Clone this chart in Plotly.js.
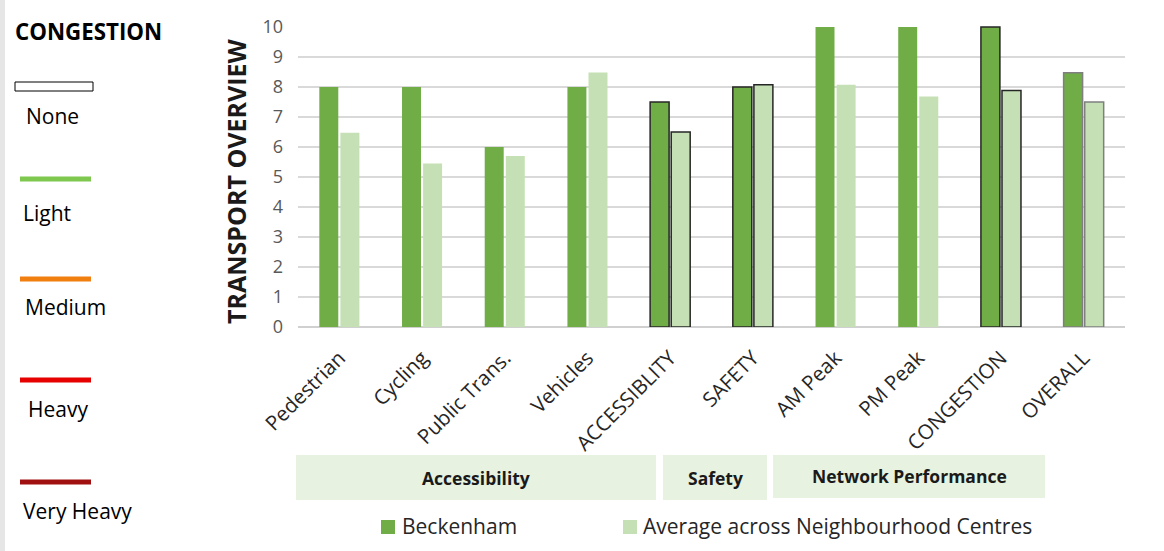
<!DOCTYPE html>
<html>
<head>
<meta charset="utf-8">
<script src="https://cdn.plot.ly/plotly-3.0.1.min.js"></script>
<style>html,body{margin:0;padding:0;background:#fff;}#chart{width:1164px;height:551px;}</style>
</head>
<body>
<div id="chart"></div>
<script>
const categories = ["Pedestrian","Cycling","Public Trans.","Vehicles","ACCESSIBLITY","SAFETY","AM Peak","PM Peak","CONGESTION","OVERALL"];
const beckenham = [8, 8, 6, 8, 7.5, 8, 10, 10, 10, 8.47];
const average = [6.47, 5.45, 5.7, 8.48, 6.5, 8.07, 8.07, 7.68, 7.88, 7.5];
const seriesNames = ["Beckenham", "Average across Neighbourhood Centres"];
const seriesColors = ["#70ad47", "#c5e0b4"];
const outlined = [false, false, false, false, true, true, false, false, true, true];
const outlineColors = ["#000","#000","#000","#000","#262626","#262626","#000","#000","#262626","#7f7f7f"];
const groups = ["Accessibility", "Safety", "Network Performance"];
const congestionLevels = ["None", "Light", "Medium", "Heavy", "Very Heavy"];
const congestionColors = [null, "#7ec850", "#f07f10", "#e60000", "#a01010"];
const yTicks = [0,1,2,3,4,5,6,7,8,9,10];

// pixel -> paper helpers (plot area: x 298..1125, y 26..327)
const L = 298, R = 1125, T = 26, B = 327;
const X = px => (px - L) / (R - L);
const Y = py => (B - py) / (B - T);

const font = "'Open Sans', 'Noto Sans', sans-serif";
const lineW = outlined.map(o => o ? 1.5 : 0);
const lineC = outlined.map((o,i) => outlineColors[i]);

const traces = [
  {type:'bar', name:seriesNames[0], x:categories, y:beckenham,
   marker:{color:seriesColors[0], line:{color:lineC, width:lineW}}, hoverinfo:'x+y'},
  {type:'bar', name:seriesNames[1], x:categories, y:average,
   marker:{color:seriesColors[1], line:{color:lineC, width:lineW}}, hoverinfo:'x+y'}
];

const shapes = [];
const annotations = [];

// left gray strip
shapes.push({type:'rect', xref:'paper', yref:'paper', x0:X(0), x1:X(5), y0:Y(0), y1:Y(551), fillcolor:'#e6e6e6', line:{width:0}, layer:'below'});

// Congestion legend panel
annotations.push({xref:'paper', yref:'paper', x:X(13), y:Y(31), xanchor:'left', yanchor:'middle', showarrow:false,
  text:'<b>CONGESTION</b>', font:{family:font, size:22.3, color:'#000'}});
const lineYs = [86, 179, 279, 380, 482];
const labelYs = [116, 213, 307, 409, 511];
const labelXs = [24, 21, 23, 26, 21];
congestionLevels.forEach((lvl, i) => {
  if (congestionColors[i] === null) {
    shapes.push({type:'rect', xref:'paper', yref:'paper', x0:X(15), x1:X(93), y0:Y(82), y1:Y(91), fillcolor:'#fff', line:{color:'#000', width:1}});
  } else {
    shapes.push({type:'line', xref:'paper', yref:'paper', x0:X(20), x1:X(91), y0:Y(lineYs[i]), y1:Y(lineYs[i]), line:{color:congestionColors[i], width:5}});
  }
  annotations.push({xref:'paper', yref:'paper', x:X(labelXs[i]), y:Y(labelYs[i]), xanchor:'left', yanchor:'middle', showarrow:false,
    text:lvl, font:{family:font, size:21, color:'#000'}});
});

// group boxes
const boxes = [[296,656,455,500],[663,767,455,500],[773,1045,455,498]];
groups.forEach((g, i) => {
  const b = boxes[i];
  shapes.push({type:'rect', xref:'paper', yref:'paper', x0:X(b[0]), x1:X(b[1]), y0:Y(b[2]), y1:Y(b[3]), fillcolor:'#e7f2e0', line:{width:0}, layer:'below'});
  annotations.push({xref:'paper', yref:'paper', x:X((b[0]+b[1])/2), y:Y(i===2 ? 476 : 478), xanchor:'center', yanchor:'middle', showarrow:false,
    text:'<b>'+g+'</b>', font:{family:font, size:17.5, color:'#1a1a1a'}});
});

// bottom series legend (manual)
const legSq = [381, 623];
const legTx = [400, 641];
seriesNames.forEach((n, i) => {
  shapes.push({type:'rect', xref:'paper', yref:'paper', x0:X(legSq[i]), x1:X(legSq[i]+14), y0:Y(520), y1:Y(534), fillcolor:seriesColors[i], line:{width:0}});
  annotations.push({xref:'paper', yref:'paper', x:X(legTx[i]), y:Y(526), xanchor:'left', yanchor:'middle', showarrow:false,
    text:n, font:{family:font, size:21, color:'#262626'}});
});

// y axis title
annotations.push({xref:'paper', yref:'paper', x:X(236), y:Y(181), xanchor:'center', yanchor:'middle', showarrow:false, textangle:-90,
  text:'<b>TRANSPORT OVERVIEW</b>', font:{family:font, size:25, color:'#1a1a1a'}});

const layout = {
  width:1164, height:551,
  margin:{l:L, r:1164-R, t:T, b:551-B, pad:0},
  paper_bgcolor:'#fff', plot_bgcolor:'#fff',
  barmode:'group', bargap:0.49, bargroupgap:0.1,
  showlegend:false,
  xaxis:{type:'category', tickangle:-45, tickfont:{family:font, size:20.5, color:'#262626'}, ticks:'', showgrid:false, showline:false, zeroline:false, ticklabelstandoff:14, fixedrange:true, automargin:false},
  yaxis:{range:[0,10.03], tickvals:yTicks, ticktext:yTicks.map(String), tickfont:{family:font, size:18, color:'#595959'},
    showgrid:true, gridcolor:'#d9d9d9', gridwidth:2, zeroline:true, zerolinecolor:'#d0d0d0', zerolinewidth:2, showline:false, ticks:'', ticklabelstandoff:14, fixedrange:true, automargin:false},
  shapes:shapes, annotations:annotations,
  font:{family:font}
};

Plotly.newPlot('chart', traces, layout, {displayModeBar:false, staticPlot:true});
</script>
</body>
</html>
